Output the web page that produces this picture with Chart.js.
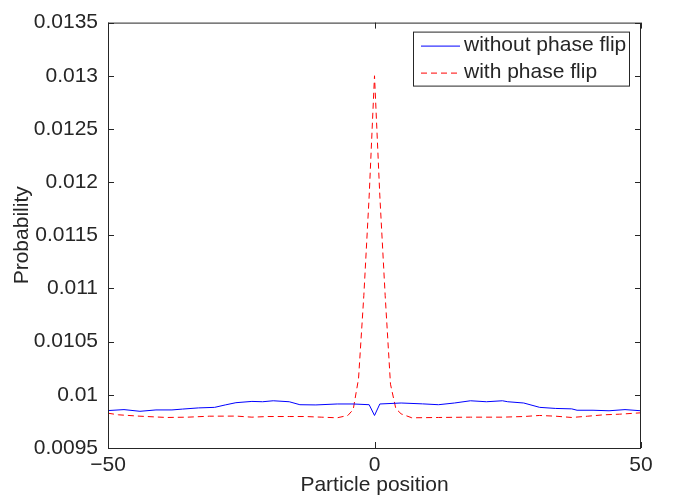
<!DOCTYPE html>
<html>
<head>
<meta charset="utf-8">
<script src="https://cdn.jsdelivr.net/npm/chart.js@4"></script>
<style>
    body { margin: 0; background: #fff; }
    #probChart { display: block; }
</style>
</head>
<body>
<canvas id="probChart" width="673" height="498"></canvas>
<script>
// values
const noFlipPos = [-50, -47, -44, -41, -38, -36, -33, -30, -28, -26, -23, -21, -19, -16, -14, -11, -7, -4, -1, 0,
    1, 5, 9, 12, 15, 18, 21, 24, 25, 28, 31, 34, 37, 38, 41, 44, 47, 50];
const noFlipProb = [0.009852, 0.009861, 0.009845, 0.009858, 0.009858, 0.009866, 0.009877, 0.009882, 0.009905, 0.009926,
    0.009938, 0.009935, 0.009944, 0.009935, 0.009907, 0.009905, 0.009914, 0.009914, 0.009907, 0.009806,
    0.009914, 0.009923, 0.009915, 0.009907, 0.009923, 0.009944, 0.009935, 0.009944, 0.009935, 0.009923,
    0.009882, 0.009872, 0.009868, 0.009855, 0.009855, 0.009850, 0.009861, 0.009850];

const flipPos = [-50, -48, -44, -39, -35, -31, -26, -23, -20, -16, -13, -10, -7, -5, -4, -3, -2, -1, 0,
    1, 2, 3, 4, 5, 7, 12, 18, 24, 28, 31, 34, 37, 40, 43, 46, 50];
const flipProb = [0.009827, 0.009812, 0.009799, 0.009787, 0.009790, 0.009799, 0.009800, 0.009790, 0.009796, 0.009796,
    0.009796, 0.009790, 0.009784, 0.009806, 0.009861, 0.010150, 0.010935, 0.011870, 0.013,
    0.011870, 0.010935, 0.010100, 0.009870, 0.009821, 0.009784, 0.009787, 0.009790, 0.009790, 0.009796,
    0.009806, 0.009799, 0.009787, 0.009799, 0.009812, 0.009818, 0.009831];

const xTicks = [-50, 0, 50];
const xTickLabels = ["\u221250", "0", "50"];
const yTicks = [0.0095, 0.01, 0.0105, 0.011, 0.0115, 0.012, 0.0125, 0.013, 0.0135];
const yTickLabels = ["0.0095", "0.01", "0.0105", "0.011", "0.0115", "0.012", "0.0125", "0.013", "0.0135"];

const FONT = "'Liberation Sans', Arial, Helvetica, sans-serif";
const FONT_SIZE = 21;
const INK = "#262626";
const BLUE = "#0000ff";
const RED = "#ff0000";

function toPoints(xs, ys) {
    return xs.map((x, i) => ({ x: x, y: ys[i] }));
}

// matlab style box, inward ticks and legend
const matlabAxes = {
    id: "matlabAxes",
    afterDatasetsDraw(chart) {
        const ctx = chart.ctx;
        const area = chart.chartArea;
        const xs = chart.scales.x;
        const ys = chart.scales.y;
        const tick = 6;

        ctx.save();
        ctx.strokeStyle = INK;
        ctx.lineWidth = 1;
        ctx.strokeRect(area.left + 0.5, area.top + 0.5, area.right - area.left - 1, area.bottom - area.top);

        ctx.beginPath();
        xTicks.forEach(v => {
            const px = Math.round(xs.getPixelForValue(v)) + 0.5;
            ctx.moveTo(px, area.bottom);
            ctx.lineTo(px, area.bottom - tick);
            ctx.moveTo(px, area.top);
            ctx.lineTo(px, area.top + tick);
        });
        yTicks.forEach(v => {
            const py = Math.round(ys.getPixelForValue(v)) + 0.5;
            ctx.moveTo(area.left, py);
            ctx.lineTo(area.left + tick, py);
            ctx.moveTo(area.right, py);
            ctx.lineTo(area.right - tick, py);
        });
        ctx.stroke();

        // legend box
        const boxW = 216, boxH = 54;
        const bx = area.right - 12 - boxW;
        const by = area.top + 9;
        ctx.fillStyle = "#fff";
        ctx.fillRect(bx, by, boxW, boxH);
        ctx.strokeStyle = INK;
        ctx.strokeRect(bx + 0.5, by + 0.5, boxW, boxH);

        const styles = [
            { color: BLUE, dash: [] },
            { color: RED, dash: [6, 4] }
        ];
        ctx.font = FONT_SIZE + "px " + FONT;
        ctx.textBaseline = "middle";
        chart.data.datasets.forEach((ds, i) => {
            const rowY = by + 14 + i * 27;
            ctx.beginPath();
            ctx.strokeStyle = styles[i].color;
            ctx.lineWidth = 1;
            ctx.setLineDash(styles[i].dash);
            ctx.moveTo(bx + 8, rowY + 0.5);
            ctx.lineTo(bx + 47, rowY + 0.5);
            ctx.stroke();
            ctx.setLineDash([]);
            ctx.fillStyle = INK;
            ctx.fillText(ds.label, bx + 51, rowY);
        });
        ctx.restore();
    }
};

document.addEventListener("DOMContentLoaded", function () {
    const ctx = document.getElementById("probChart").getContext("2d");

    new Chart(ctx, {
        type: "line",
        data: {
            datasets: [{
                label: "without phase flip",
                data: toPoints(noFlipPos, noFlipProb),
                borderColor: BLUE,
                borderWidth: 1,
                pointRadius: 0,
                tension: 0
            }, {
                label: "with phase flip",
                data: toPoints(flipPos, flipProb),
                borderColor: RED,
                borderWidth: 1,
                borderDash: [6, 4],
                pointRadius: 0,
                tension: 0
            }]
        },
        options: {
            responsive: false,
            animation: false,
            devicePixelRatio: 1,
            layout: { padding: { left: 0, top: 16, right: 32, bottom: 0 } },
            plugins: {
                legend: { display: false },
                tooltip: { enabled: false }
            },
            scales: {
                x: {
                    type: "linear",
                    min: -50,
                    max: 50,
                    afterBuildTicks: scale => { scale.ticks = xTicks.map(v => ({ value: v })); },
                    afterFit: scale => { scale.height = 50; },
                    grid: { display: false, drawTicks: false },
                    border: { display: false },
                    ticks: {
                        padding: 5,
                        maxRotation: 0,
                        color: INK,
                        font: { family: FONT, size: FONT_SIZE },
                        callback: (v, i) => xTickLabels[i]
                    },
                    title: {
                        display: true,
                        text: "Particle position",
                        color: INK,
                        padding: { top: 0, bottom: 0 },
                        font: { family: FONT, size: FONT_SIZE }
                    }
                },
                y: {
                    min: 0.0095,
                    max: 0.0135,
                    afterBuildTicks: scale => { scale.ticks = yTicks.map(v => ({ value: v })); },
                    afterFit: scale => { scale.width = 108; },
                    grid: { display: false, drawTicks: false },
                    border: { display: false },
                    ticks: {
                        padding: 10,
                        color: INK,
                        font: { family: FONT, size: FONT_SIZE },
                        callback: (v, i) => yTickLabels[i]
                    },
                    title: {
                        display: true,
                        text: "Probability",
                        color: INK,
                        padding: { top: 10, bottom: 0 },
                        font: { family: FONT, size: FONT_SIZE }
                    }
                }
            }
        },
        plugins: [matlabAxes]
    });
});
</script>
</body>
</html>
